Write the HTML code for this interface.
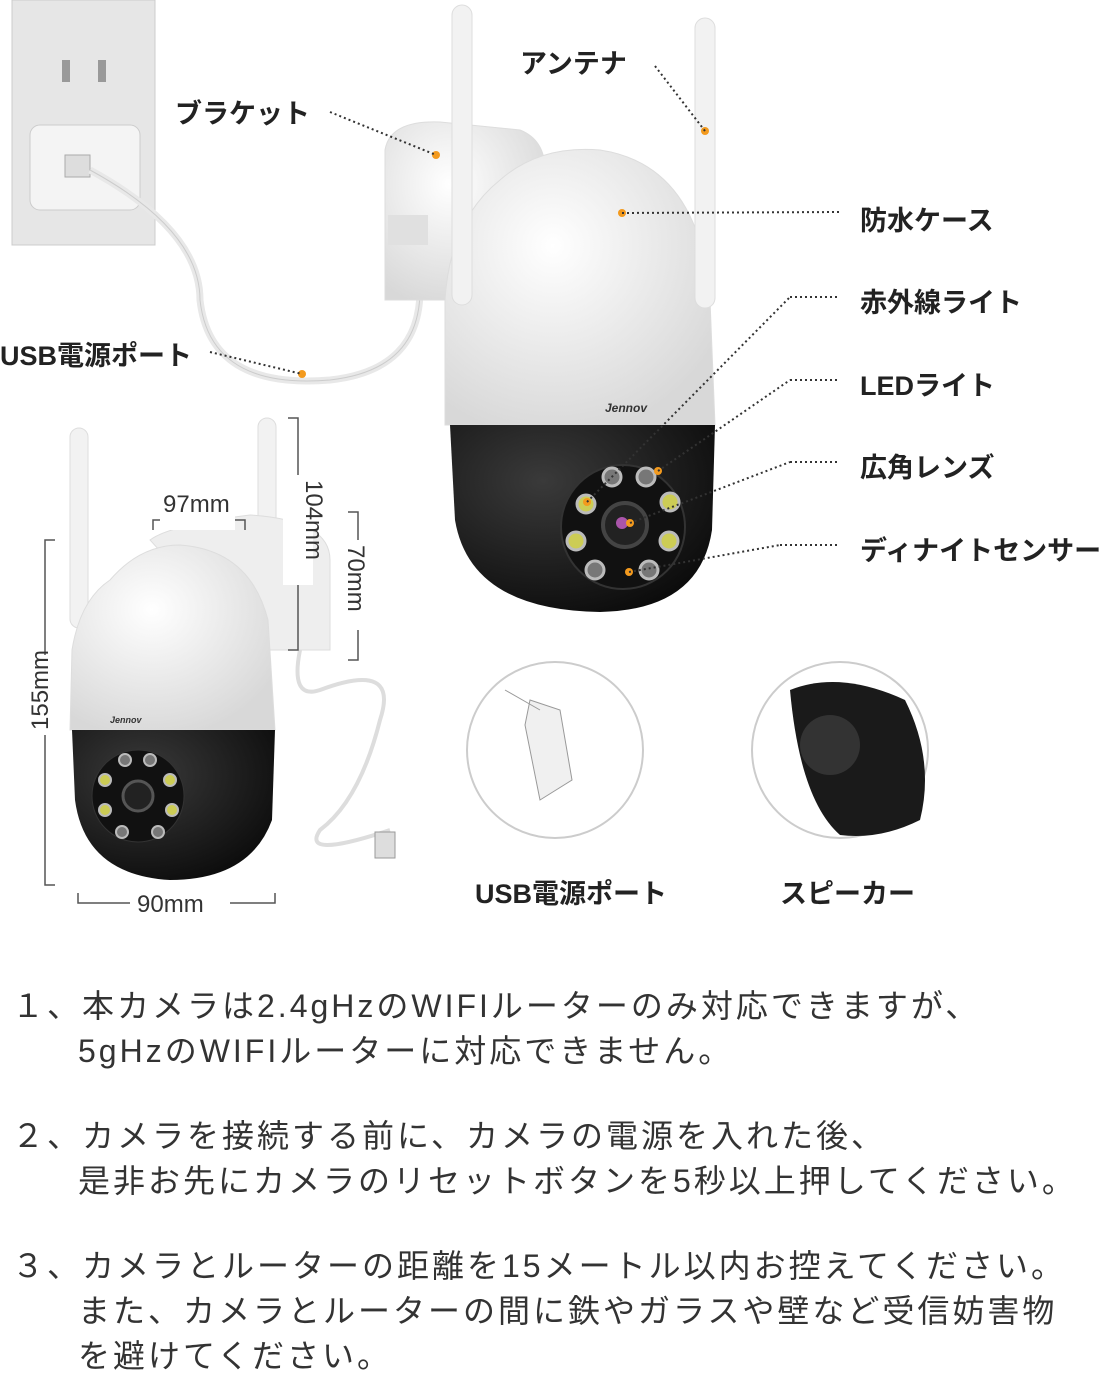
<!DOCTYPE html><html><head><meta charset="utf-8"><style>
body{margin:0;background:#fff;width:1111px;height:1371px;overflow:hidden;position:relative;font-family:"Liberation Sans","Noto Sans CJK JP",sans-serif}
.l{position:absolute;font-weight:bold;font-size:27px;color:#222;white-space:nowrap}
.t{position:absolute;left:12px;font-size:32px;letter-spacing:3px;color:#333;white-space:nowrap;line-height:45px}
.i{left:78px}
</style></head><body>
<svg width="1111" height="950" style="position:absolute;left:0;top:0">
<defs>
<radialGradient id="w" cx="0.4" cy="0.35" r="0.7"><stop offset="0" stop-color="#fff"/><stop offset="1" stop-color="#d8d8d8"/></radialGradient>
<radialGradient id="b" cx="0.35" cy="0.3" r="0.8"><stop offset="0" stop-color="#3a3a3a"/><stop offset="1" stop-color="#0a0a0a"/></radialGradient>
</defs>
<rect x="12" y="0" width="143" height="245" fill="#e6e6e6" stroke="#ccc"/>
<rect x="30" y="125" width="110" height="85" rx="10" fill="#f4f4f4" stroke="#ccc"/>
<rect x="65" y="155" width="25" height="22" fill="#ddd" stroke="#aaa"/>
<rect x="62" y="60" width="8" height="22" fill="#999"/><rect x="98" y="60" width="8" height="22" fill="#999"/>
<path d="M90 170 Q200 230 200 300 Q210 390 330 380 Q420 370 420 290" stroke="#e8e8e8" stroke-width="7" fill="none"/>
<path d="M90 170 Q200 230 200 300 Q210 390 330 380 Q420 370 420 290" stroke="#ccc" stroke-width="1" fill="none"/>
<path d="M385 150 Q390 120 440 122 L520 130 Q545 140 545 170 L545 300 L385 300 Z" fill="url(#w)" stroke="#ddd"/>
<rect x="388" y="215" width="40" height="30" fill="#e0e0e0"/>
<path d="M500 180 Q540 145 600 150 Q700 165 710 300 L715 425 L445 425 L445 300 Q450 220 500 180Z" fill="url(#w)" stroke="#ddd"/>
<rect x="452" y="5" width="20" height="300" rx="10" fill="#f2f2f2" stroke="#ddd"/>
<rect x="695" y="18" width="20" height="290" rx="10" fill="#f2f2f2" stroke="#ddd"/>
<path d="M450 425 L715 425 L712 530 Q700 610 600 612 Q470 610 455 520Z" fill="url(#b)"/>
<text x="605" y="412" font-size="12" font-style="italic" font-weight="bold" fill="#333" font-family="Liberation Sans">Jennov</text>
<circle cx="623" cy="527" r="62" fill="#111" stroke="#333" stroke-width="2"/>
<circle cx="625" cy="525" r="22" fill="#222" stroke="#444" stroke-width="4"/><circle cx="622" cy="523" r="6" fill="#a5a"/>
<g stroke="#bbb" stroke-width="3">
<circle cx="612" cy="477" r="9" fill="#777"/><circle cx="646" cy="477" r="9" fill="#777"/>
<circle cx="586" cy="504" r="9" fill="#cc5"/><circle cx="670" cy="502" r="9" fill="#cc5"/>
<circle cx="576" cy="541" r="9" fill="#cc5"/><circle cx="669" cy="541" r="9" fill="#cc5"/>
<circle cx="595" cy="570" r="9" fill="#777"/><circle cx="649" cy="570" r="9" fill="#777"/></g>
<g fill="#f39a1e"><circle cx="436" cy="155" r="4"/><circle cx="705" cy="131" r="4"/><circle cx="622" cy="213" r="4"/><circle cx="302" cy="374" r="4"/><circle cx="587" cy="502" r="4"/><circle cx="658" cy="471" r="4"/><circle cx="630" cy="523" r="4"/><circle cx="629" cy="572" r="4"/></g>
<g stroke="#333" stroke-width="2" stroke-dasharray="2,3" fill="none">
<line x1="330" y1="112" x2="436" y2="155"/><line x1="655" y1="66" x2="705" y2="131"/>
<line x1="622" y1="213" x2="840" y2="212"/><line x1="587" y1="502" x2="790" y2="297"/><line x1="790" y1="297" x2="840" y2="297"/>
<line x1="658" y1="471" x2="790" y2="380"/><line x1="790" y1="380" x2="840" y2="380"/>
<line x1="630" y1="523" x2="790" y2="462"/><line x1="790" y1="462" x2="840" y2="462"/>
<line x1="629" y1="572" x2="780" y2="545"/><line x1="780" y1="545" x2="840" y2="545"/>
<line x1="210" y1="352" x2="302" y2="374"/></g>
<rect x="70" y="428" width="18" height="200" rx="9" fill="#f2f2f2" stroke="#ddd"/>
<rect x="258" y="418" width="18" height="220" rx="9" fill="#f2f2f2" stroke="#ddd"/>
<path d="M150 540 Q170 525 250 515 Q330 520 330 560 L330 650 L250 650Z" fill="#eee" stroke="#ddd"/>
<path d="M110 580 Q140 545 180 545 Q250 550 268 620 L275 730 L70 730 L72 650 Q80 600 110 580Z" fill="url(#w)" stroke="#ddd"/>
<path d="M72 730 L275 730 L272 820 Q250 880 170 880 Q85 875 75 800Z" fill="url(#b)"/>
<text x="110" y="723" font-size="9" font-style="italic" font-weight="bold" fill="#333">Jennov</text>
<circle cx="138" cy="796" r="46" fill="#111" stroke="#333"/><circle cx="138" cy="796" r="15" fill="#222" stroke="#555" stroke-width="3"/>
<g stroke="#bbb" stroke-width="2"><circle cx="125" cy="760" r="6" fill="#777"/><circle cx="150" cy="760" r="6" fill="#777"/><circle cx="105" cy="780" r="6" fill="#cc5"/><circle cx="170" cy="780" r="6" fill="#cc5"/><circle cx="105" cy="810" r="6" fill="#cc5"/><circle cx="172" cy="810" r="6" fill="#cc5"/><circle cx="122" cy="832" r="6" fill="#777"/><circle cx="158" cy="832" r="6" fill="#777"/></g>
<path d="M300 650 Q290 700 320 690 Q400 660 380 720 Q360 800 320 830 Q300 860 390 830" stroke="#ddd" stroke-width="4" fill="none"/>
<rect x="375" y="832" width="20" height="26" fill="#ddd" stroke="#999"/>
<g stroke="#555" stroke-width="1.5" fill="none">
<path d="M55 540 L45 540 L45 885 L55 885"/><path d="M78 893 L78 903 L275 903 L275 893"/>
<path d="M153 530 L153 520 L245 520 L245 530"/><path d="M288 418 L298 418 L298 650 L288 650"/><path d="M348 512 L358 512 L358 660 L348 660"/></g>
<rect x="25" y="655" width="30" height="80" fill="#fff"/><rect x="130" y="890" width="100" height="25" fill="#fff"/><rect x="160" y="505" width="75" height="25" fill="#fff"/><rect x="283" y="475" width="30" height="110" fill="#fff"/><rect x="343" y="540" width="30" height="90" fill="#fff"/>
<text font-size="24" fill="#333" transform="translate(48,730) rotate(-90)">155mm</text>
<text x="137" y="912" font-size="24" fill="#333">90mm</text>
<text x="163" y="512" font-size="24" fill="#333">97mm</text>
<text font-size="24" fill="#333" transform="translate(306,480) rotate(90)">104mm</text>
<text font-size="24" fill="#333" transform="translate(348,545) rotate(90)">70mm</text>
<circle cx="555" cy="750" r="88" fill="#fff" stroke="#ccc" stroke-width="2"/>
<path d="M505 690 L540 710 M530 700 L560 710 L572 780 L540 800 L525 725Z" fill="#f0f0f0" stroke="#999"/>
<circle cx="840" cy="750" r="88" fill="#fff" stroke="#ccc" stroke-width="2"/>
<path d="M790 690 Q840 670 905 700 Q935 760 920 820 Q880 840 840 835 Q800 800 790 690Z" fill="#1a1a1a"/>
<circle cx="830" cy="745" r="30" fill="#333"/>
</svg>
<div class="l" style="left:520px;top:42px">アンテナ</div>
<div class="l" style="left:175px;top:92px">ブラケット</div>
<div class="l" style="left:860px;top:199px">防水ケース</div>
<div class="l" style="left:860px;top:281px">赤外線ライト</div>
<div class="l" style="left:860px;top:364px">LEDライト</div>
<div class="l" style="left:860px;top:446px">広角レンズ</div>
<div class="l" style="left:860px;top:529px">ディナイトセンサー</div>
<div class="l" style="left:0px;top:334px">USB電源ポート</div>
<div class="l" style="left:475px;top:872px">USB電源ポート</div>
<div class="l" style="left:780px;top:872px">スピーカー</div>
<div class="t" style="top:984px">１、本カメラは2.4gHzのWIFIルーターのみ対応できますが、</div>
<div class="t i" style="top:1029px">5gHzのWIFIルーターに対応できません。</div>
<div class="t" style="top:1114px">２、カメラを接続する前に、カメラの電源を入れた後、</div>
<div class="t i" style="top:1159px">是非お先にカメラのリセットボタンを5秒以上押してください。</div>
<div class="t" style="top:1244px">３、カメラとルーターの距離を15メートル以内お控えてください。</div>
<div class="t i" style="top:1289px">また、カメラとルーターの間に鉄やガラスや壁など受信妨害物</div>
<div class="t i" style="top:1334px">を避けてください。</div>
</body></html>
